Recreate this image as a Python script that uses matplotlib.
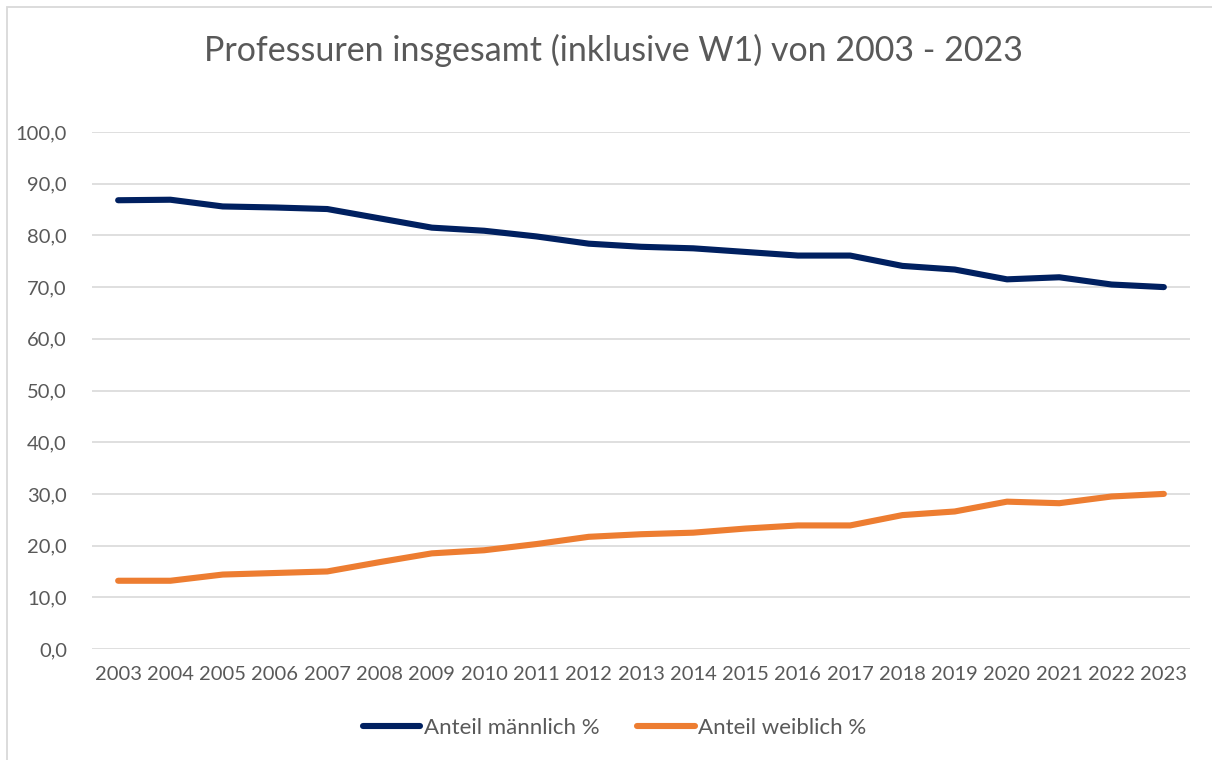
import numpy as np
import matplotlib
matplotlib.use("Agg")
import matplotlib.pyplot as plt
from matplotlib.patches import Rectangle
from matplotlib.ticker import FuncFormatter

plt.rcParams['font.family'] = ['Lato', 'DejaVu Sans']

# data
years = [str(y) for y in range(2003, 2024)]
maennlich = [86.8, 86.9, 85.6, 85.4, 85.1, 83.3, 81.5, 80.9, 79.8, 78.4, 77.8,
             77.5, 76.8, 76.1, 76.1, 74.1, 73.4, 71.5, 71.9, 70.5, 70.0]
weiblich = [13.2, 13.2, 14.4, 14.7, 15.0, 16.8, 18.5, 19.1, 20.3, 21.7, 22.2,
            22.5, 23.3, 23.9, 23.9, 25.9, 26.6, 28.5, 28.2, 29.5, 30.0]

text_col = '#595959'
grid_col = '#D9D9D9'

fig = plt.figure(figsize=(12.12, 7.6), dpi=100)
fig.patches.append(Rectangle((7 / 1212, -0.01), 1.0, 1 - 7 / 760 + 0.01,
                             transform=fig.transFigure, fill=False,
                             edgecolor=grid_col, linewidth=1.3))

ax = fig.add_axes([92 / 1212, 1 - 649 / 760, (1190 - 92) / 1212, (649 - 132) / 760])

x = np.arange(len(years))
ax.plot(x, maennlich, color='#002060', lw=4.4, solid_capstyle='round',
        solid_joinstyle='round', label='Anteil männlich %')
ax.plot(x, weiblich, color='#ED7D31', lw=4.4, solid_capstyle='round',
        solid_joinstyle='round', label='Anteil weiblich %')

ax.set_xlim(-0.5, len(years) - 0.5)
ax.set_ylim(0, 100)
ax.set_yticks(np.arange(0, 101, 10))
ax.yaxis.set_major_formatter(FuncFormatter(lambda v, p: f"{v:.1f}".replace('.', ',')))
ax.set_xticks(x)
ax.set_xticklabels(years)
ax.tick_params(axis='both', length=0, labelsize=14.5, labelcolor=text_col)
ax.tick_params(axis='x', pad=12)
ax.tick_params(axis='y', pad=18)
ax.grid(axis='y', color=grid_col, lw=1.2)
ax.set_axisbelow(True)
for s in ax.spines.values():
    s.set_visible(False)

fig.text(0.506, 1 - 50 / 760, 'Professuren insgesamt (inklusive W1) von 2003 - 2023',
         ha='center', va='center', fontsize=24.5, color=text_col)

leg = fig.legend(loc='center', bbox_to_anchor=(0.507, 1 - 728 / 760), ncol=2,
                 frameon=False, fontsize=16, handlelength=2.6, handletextpad=0.15,
                 columnspacing=1.7)
for t in leg.get_texts():
    t.set_color(text_col)

fig.savefig('out.png', dpi=100)
